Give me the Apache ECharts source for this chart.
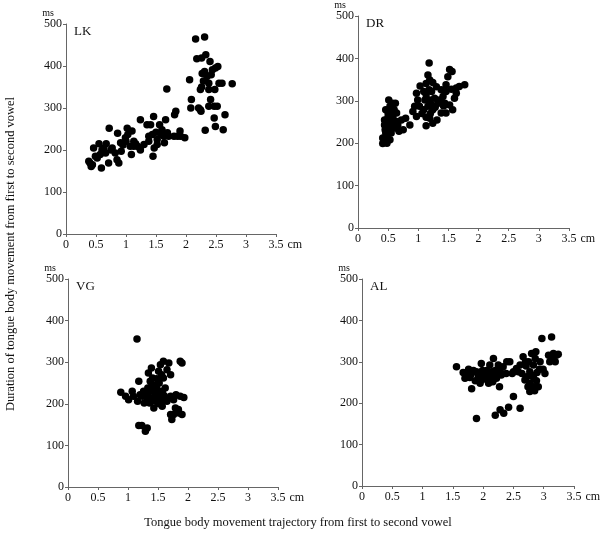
<!DOCTYPE html>
<html>
<head>
<meta charset="utf-8">
<script src="https://cdn.jsdelivr.net/npm/echarts@6/dist/echarts.min.js"></script>
<style>
  html, body { margin: 0; padding: 0; background: #fff; }
  #chart { width: 600px; height: 537px; }
</style>
</head>
<body>
<div id="chart"></div>
<script>
// tick labels
var xTicks = [0, 0.5, 1, 1.5, 2, 2.5, 3, 3.5];
var yTicks = [0, 100, 200, 300, 400, 500];
var speakers = ['LK', 'DR', 'VG', 'AL'];

// [trajectory cm, duration ms]
var lkPoints = [
  [0.40,169],[0.42,161],[0.38,173],[0.46,205],[0.55,215],[0.57,189],[0.60,200],[0.59,157],
  [0.67,215],[0.66,193],[0.71,169],[0.72,252],[0.77,205],[0.82,193],[0.86,240],[0.85,177],
  [0.88,169],[0.91,217],[0.92,197],[0.99,229],[1.02,252],[1.03,237],[1.07,209],[1.09,189],
  [1.10,245],[1.13,221],[1.19,209],[1.24,272],[1.23,205],[1.30,213],[1.35,260],[1.38,221],
  [1.41,260],[1.44,237],[1.46,280],[1.45,185],[1.47,205],[1.52,225],[1.56,260],[1.60,248],
  [1.63,233],[1.64,217],[1.66,272],[1.68,345],[1.71,233],[1.80,233],[1.81,284],[1.83,292],
  [1.90,245],[1.91,233],[1.98,229],[2.06,367],[2.09,320],[2.08,300],[2.16,464],[2.18,417],
  [2.21,300],[2.24,296],[2.25,292],[2.31,469],[2.32,247],[2.33,427],[2.26,419],[2.24,344],
  [2.26,350],[2.29,364],[2.35,375],[2.31,387],[2.27,382],[2.38,359],[2.38,344],[2.40,411],
  [2.44,391],[2.41,320],[2.38,304],[2.42,379],[2.49,395],[2.53,399],[2.47,276],[2.49,256],
  [2.52,304],[2.55,359],[2.60,359],[2.62,248],[2.65,284],[2.77,358],[2.47,304],[2.48,344],
  [0.52,181],[0.49,185],[1.00,221],[1.13,209],[1.24,200],[1.38,233],[1.52,213],[1.58,237],
  [1.69,241],[1.86,233],[0.44,165],[0.63,205],[0.75,200],[0.95,212],[1.16,215],[1.50,242]
];
var drPoints = [
  [1.18,389],[1.52,374],[1.56,369],[1.49,357],[1.16,361],[1.19,349],[1.13,341],[1.24,343],
  [1.03,335],[1.30,333],[1.38,326],[1.46,338],[1.55,327],[1.63,330],[1.68,334],[1.77,338],
  [1.60,306],[1.63,318],[1.46,322],[1.41,310],[1.52,290],[1.46,271],[1.38,271],[1.31,255],
  [1.24,279],[1.19,302],[1.16,287],[1.11,302],[1.09,279],[1.13,261],[1.13,241],[1.19,259],
  [0.99,302],[0.94,287],[0.91,275],[0.97,263],[1.02,287],[1.27,306],[1.22,322],[1.33,294],
  [1.22,291],[0.86,243],[0.79,259],[0.75,232],[0.68,228],[0.64,251],[0.62,294],[0.60,279],
  [0.57,294],[0.53,287],[0.50,271],[0.48,255],[0.44,243],[0.41,212],[0.41,199],[0.48,200],
  [0.53,208],[0.55,224],[0.51,236],[0.46,224],[0.58,259],[0.64,271],[0.55,247],[0.50,263],
  [0.61,236],[0.44,255],[0.47,228],[0.66,243],[0.72,255],[0.51,302],[0.46,279],[0.48,216],
  [0.97,318],[1.09,322],[1.35,302],[1.44,294],[1.57,279],[1.18,326],[1.13,314],[1.24,247],
  [1.06,270],[1.20,270],[1.28,285],[1.42,288],[0.58,268],[0.52,250],[0.45,232],[0.56,282]
];
var vgPoints = [
  [1.15,356],[0.88,228],[0.96,218],[1.01,210],[1.07,230],[1.09,218],[1.16,206],[1.18,254],
  [1.20,222],[1.26,230],[1.27,202],[1.32,214],[1.33,238],[1.34,274],[1.37,254],[1.39,286],
  [1.43,230],[1.43,190],[1.46,206],[1.48,246],[1.51,278],[1.53,222],[1.54,294],[1.57,194],
  [1.59,302],[1.62,238],[1.65,282],[1.68,298],[1.71,270],[1.65,206],[1.71,218],[1.76,210],
  [1.87,218],[1.93,215],[1.90,174],[1.82,182],[1.71,174],[1.73,162],[1.79,190],[1.84,186],
  [1.87,302],[1.90,298],[1.18,148],[1.23,148],[1.32,142],[1.29,134],[1.37,230],[1.48,222],
  [1.41,214],[1.36,202],[1.52,250],[1.59,262],[1.57,230],[1.54,206],[1.44,238],[1.33,226],
  [1.41,262],[1.62,210],[1.80,222],[1.76,174],[1.47,240],[1.50,232],[1.45,218],[1.55,214],
  [1.40,246],[1.52,200],[1.60,220],[1.30,220],[1.24,218],[1.48,260],[1.56,270],[1.85,178]
];
var alPoints = [
  [1.56,288],[1.67,274],[1.70,260],[1.76,282],[1.78,262],[1.81,235],[1.84,279],[1.87,254],
  [1.92,266],[1.95,248],[1.97,296],[1.99,279],[1.89,163],[2.03,262],[2.06,279],[2.09,248],
  [2.11,292],[2.13,268],[2.17,308],[2.20,279],[2.22,260],[2.16,252],[2.25,292],[2.27,240],
  [2.28,184],[2.20,171],[2.34,176],[2.38,272],[2.42,190],[2.44,300],[2.48,272],[2.50,216],
  [2.55,284],[2.61,292],[2.61,188],[2.64,272],[2.66,312],[2.69,256],[2.71,290],[2.74,240],
  [2.75,300],[2.77,276],[2.77,228],[2.80,320],[2.83,262],[2.83,240],[2.86,308],[2.87,324],
  [2.88,254],[2.89,274],[2.91,240],[2.93,282],[2.97,356],[2.99,282],[3.02,272],[3.13,360],
  [3.08,316],[3.10,300],[3.14,308],[3.19,300],[3.21,316],[3.24,318],[3.16,320],[1.73,272],
  [1.89,276],[1.95,260],[2.06,260],[2.14,276],[2.28,279],[2.33,288],[2.39,300],[2.50,276],
  [2.58,276],[2.72,264],[2.80,268],[2.83,292],[2.94,300],[2.77,248],[1.80,270],[2.00,270],
  [2.10,265],[2.22,270],[2.30,268],[2.00,258],[2.18,262],[2.70,300],[2.85,230]
];
var allPoints = [lkPoints, drPoints, vgPoints, alPoints];

var grids = [
  { left: 66, top: 24, width: 210, height: 210 },
  { left: 358, top: 16, width: 211, height: 212 },
  { left: 68, top: 279, width: 210, height: 208 },
  { left: 362, top: 279, width: 212, height: 207 }
];

var serif = '"Liberation Serif", "DejaVu Serif", serif';
var axisCol = '#666';

var chart = echarts.init(document.getElementById('chart'));
var xAxes = [], yAxes = [], series = [], titles = [];
grids.forEach(function (g, i) {
  g.outerBoundsMode = 'none';
  xAxes.push({
    gridIndex: i, type: 'value', min: 0, max: 3.5, interval: 0.5,
    name: 'cm', nameLocation: 'end', nameGap: 10,
    nameTextStyle: { fontFamily: serif, fontSize: 12, color: '#111', verticalAlign: 'top', padding: [5, 0, 0, 0] },
    splitLine: { show: false },
    axisLine: { lineStyle: { color: axisCol, width: 1 } },
    axisTick: { length: 3, lineStyle: { color: axisCol } },
    axisLabel: { fontFamily: serif, fontSize: 12, color: '#111', margin: 5,
      formatter: function (v) { return xTicks.indexOf(v) >= 0 ? String(v) : ''; } }
  });
  yAxes.push({
    gridIndex: i, type: 'value', min: 0, max: 500, interval: 100,
    name: 'ms', nameLocation: 'end', nameGap: 5,
    nameTextStyle: { fontFamily: serif, fontSize: 10, color: '#111', align: 'right', padding: [0, 12, 0, 0] },
    splitLine: { show: false },
    axisLine: { show: true, lineStyle: { color: axisCol, width: 1 } },
    axisTick: { show: true, length: 3, lineStyle: { color: axisCol } },
    axisLabel: { fontFamily: serif, fontSize: 12, color: '#111', margin: 4,
      formatter: function (v) { return yTicks.indexOf(v) >= 0 ? String(v) : ''; } }
  });
  series.push({
    type: 'scatter', xAxisIndex: i, yAxisIndex: i,
    data: allPoints[i], symbolSize: 7.5,
    itemStyle: { color: '#000', opacity: 1 }
  });
  titles.push({
    text: speakers[i], left: g.left + 3, top: g.top - 4,
    textStyle: { fontFamily: serif, fontSize: 13, fontWeight: 'normal', color: '#111' }
  });
});

chart.setOption({
  animation: false,
  backgroundColor: '#fff',
  title: titles,
  grid: grids,
  xAxis: xAxes,
  yAxis: yAxes,
  series: series,
  graphic: [
    { type: 'text', x: 298, y: 516,
      style: { text: 'Tongue body movement trajectory from first to second vowel', font: '12.5px ' + serif, fill: '#111', textAlign: 'center' } },
    { type: 'text', x: 4, y: 254, rotation: Math.PI / 2,
      style: { text: 'Duration of tongue body movement from first to second vowel', font: '12.5px ' + serif, fill: '#111', textAlign: 'center', textVerticalAlign: 'top' } }
  ]
});
</script>
</body>
</html>
